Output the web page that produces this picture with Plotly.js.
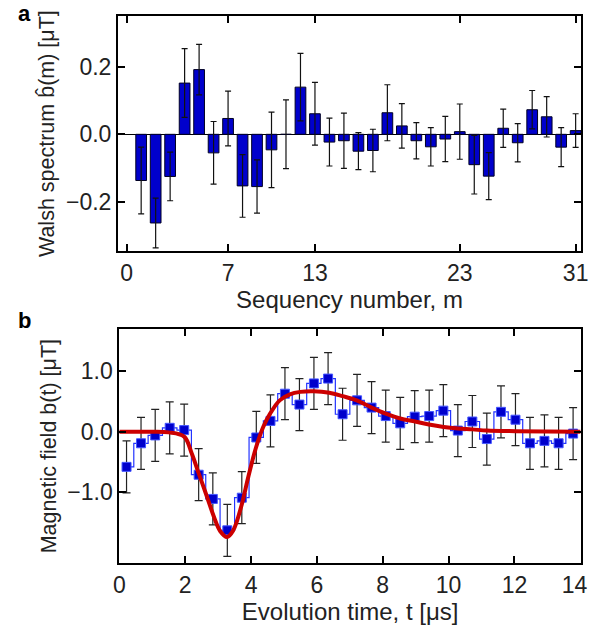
<!DOCTYPE html>
<html>
<head>
<meta charset="utf-8">
<script src="https://cdn.plot.ly/plotly-3.0.1.min.js"></script>
<style>html,body{margin:0;padding:0;background:#fff;}#chart{width:589px;height:627px;}</style>
</head>
<body>
<div id="chart"></div>
<script>
// ---- Panel a: Walsh spectrum ----
const sequency = [1,2,3,4,5,6,7,8,9,10,11,12,13,14,15,16,17,18,19,20,21,22,23,24,25,26,27,28,29,30,31];
const walshValue = [-0.137,-0.263,-0.125,0.152,0.192,-0.055,0.047,-0.153,-0.155,-0.046,0.0,0.140,0.061,-0.023,-0.019,
  -0.050,-0.048,0.064,0.025,-0.019,-0.037,-0.014,0.008,-0.090,-0.124,0.018,-0.025,0.073,0.052,-0.038,0.011];
const walshError = [0.099,0.074,0.072,0.102,0.075,0.093,0.081,0.093,0.079,0.112,0.102,0.100,0.093,0.071,0.082,
  0.055,0.063,0.083,0.066,0.054,0.057,0.067,0.082,0.087,0.070,0.057,0.057,0.057,0.060,0.058,0.050];
const walshTicks = [0,7,13,23,31];
const walshYTicks = [-0.2,0,0.2];
const walshYTickText = ['\u22120.2','0.0','0.2'];

// ---- Panel b: magnetic field reconstruction ----
const timeUs = [0.22,0.66,1.09,1.53,1.97,2.41,2.84,3.28,3.72,4.16,4.59,5.03,5.47,5.91,6.34,6.78,
  7.22,7.66,8.09,8.53,8.97,9.41,9.84,10.28,10.72,11.16,11.59,12.03,12.47,12.91,13.34,13.78];
const fieldValue = [-0.58,-0.19,-0.06,0.066,0.028,-0.71,-1.11,-1.63,-1.09,-0.094,0.18,0.63,0.45,0.80,0.88,0.29,
  0.52,0.40,0.26,0.14,0.25,0.26,0.35,0.02,0.17,-0.12,0.33,0.20,-0.19,-0.15,-0.19,-0.03];
const fieldError = [0.43,0.43,0.43,0.43,0.43,0.43,0.43,0.43,0.43,0.43,0.43,0.43,0.43,0.43,0.43,0.43,
  0.43,0.43,0.43,0.43,0.43,0.43,0.43,0.43,0.43,0.43,0.43,0.43,0.43,0.43,0.43,0.43];
const fitTime = [0,0.5,1.0,1.5,1.97,2.2,2.4,2.66,2.87,3.06,3.27,3.46,3.70,3.92,4.14,4.37,4.58,4.87,5.18,5.5,5.9,
  6.38,6.78,7.21,7.66,8.09,8.53,8.98,9.40,9.85,10.29,10.72,11.16,12.04,13.0,14.0];
const fitValue = [0,0,0,-0.01,-0.08,-0.36,-0.67,-1.07,-1.40,-1.64,-1.74,-1.63,-1.24,-0.74,-0.28,0.08,0.30,0.52,0.62,0.66,0.67,
  0.645,0.59,0.52,0.40,0.30,0.22,0.17,0.12,0.08,0.055,0.04,0.02,0.01,0.005,0];
const fieldXTicks = [0,2,4,6,8,10,12,14];
const fieldXTickText = ['0','2','4','6','8','10','12','14\u2002'];
const fieldYTicks = [-1,0,1];
const fieldYTickText = ['\u22121.0','0.0','1.0'];

const FONT = 'Liberation Sans, Arial, Helvetica, sans-serif';
const W = 589, H = 627;
const TICK_SIZE = 23;
const XTITLE_SIZE = 24;
const YTITLE_SIZE = 21.5;

const traces = [
  {
    type: 'bar', x: sequency, y: walshValue, xaxis: 'x', yaxis: 'y',
    width: 0.74,
    marker: {color: '#0000CC', line: {color: '#000022', width: 1}},
    error_y: {type: 'data', array: walshError, visible: true, color: '#111', thickness: 1.2, width: 3}
  },
  {
    type: 'scatter', mode: 'lines+markers', x: timeUs, y: fieldValue, xaxis: 'x2', yaxis: 'y2',
    line: {shape: 'hvh', color: '#2233ff', width: 1.2},
    marker: {symbol: 'square', size: 9, color: '#0000CC', line: {color: '#4455ff', width: 1}},
    error_y: {type: 'data', array: fieldError, visible: true, color: '#222', thickness: 1.2, width: 4}
  },
  {
    type: 'scatter', mode: 'lines', x: fitTime, y: fitValue, xaxis: 'x2', yaxis: 'y2',
    line: {shape: 'spline', smoothing: 1.0, color: '#CC0000', width: 4}
  }
];

const axisCommon = {
  showline: true, linecolor: '#000', linewidth: 2, mirror: 'ticks',
  ticks: 'inside', ticklen: 7, tickwidth: 2, tickcolor: '#000',
  showgrid: false, zeroline: false,
  tickfont: {family: FONT, size: TICK_SIZE, color: '#222'}
};

const layout = {
  width: W, height: H,
  margin: {l: 0, r: 0, t: 0, b: 0},
  paper_bgcolor: '#fff', plot_bgcolor: '#fff',
  showlegend: false,
  font: {family: FONT, color: '#222'},
  xaxis: Object.assign({}, axisCommon, {
    domain: [118/W, 581/W], anchor: 'y',
    range: [-0.6, 31.37], tickmode: 'array', tickvals: walshTicks,
    title: {text: 'Sequency number, m', font: {family: FONT, size: XTITLE_SIZE, color: '#222'}, standoff: 2}
  }),
  yaxis: Object.assign({}, axisCommon, {
    domain: [1 - 251.3/H, 1 - 16/H], anchor: 'x',
    range: [-0.347, 0.351], tickmode: 'array', tickvals: walshYTicks, ticktext: walshYTickText,
    zeroline: true, zerolinecolor: '#000', zerolinewidth: 1.5,
    title: {text: 'Walsh spectrum b\u0302(m) [\u03bcT]', font: {family: FONT, size: YTITLE_SIZE, color: '#222'}, standoff: 5}
  }),
  xaxis2: Object.assign({}, axisCommon, {
    domain: [119.3/W, 581/W], anchor: 'y2',
    range: [0, 14.02], tickmode: 'array', tickvals: fieldXTicks, ticktext: fieldXTickText,
    ticklabeloverflow: 'allow',
    title: {text: 'Evolution time, t [\u03bcs]', font: {family: FONT, size: XTITLE_SIZE, color: '#222'}, standoff: 2}
  }),
  yaxis2: Object.assign({}, axisCommon, {
    domain: [1 - 563.3/H, 1 - 329/H], anchor: 'x2',
    range: [-2.175, 1.70], tickmode: 'array', tickvals: fieldYTicks, ticktext: fieldYTickText,
    title: {text: 'Magnetic field b(t) [\u03bcT]', font: {family: FONT, size: YTITLE_SIZE, color: '#222'}, standoff: 5}
  }),
  annotations: [
    {text: '<b>a</b>', xref: 'paper', yref: 'paper', x: 24/W, y: 1 - 14/H, xanchor: 'center', yanchor: 'middle',
     showarrow: false, font: {family: FONT, size: 22, color: '#000'}},
    {text: '<b>b</b>', xref: 'paper', yref: 'paper', x: 24/W, y: 1 - 320/H, xanchor: 'center', yanchor: 'middle',
     showarrow: false, font: {family: FONT, size: 22, color: '#000'}}
  ]
};

Plotly.newPlot('chart', traces, layout, {staticPlot: true, displayModeBar: false});
</script>
</body>
</html>
